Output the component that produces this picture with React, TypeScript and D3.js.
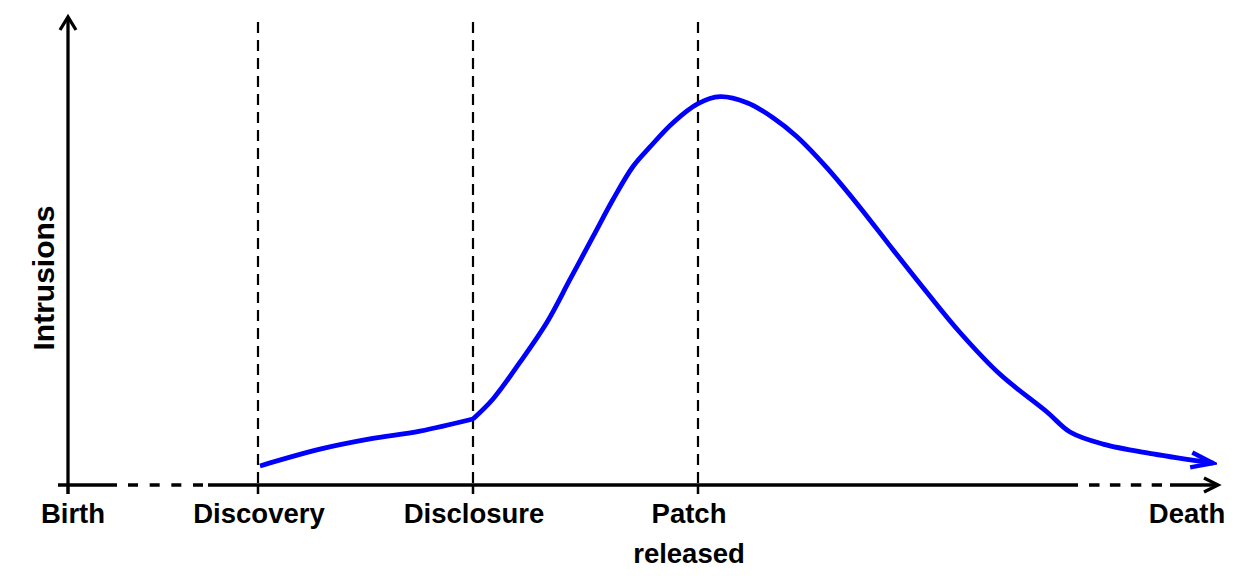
import React from "react";
import * as d3 from "d3";

// Timeline events (time units along the vulnerability lifecycle)
const eventNames = ["Birth", "Discovery", "Disclosure", "Patch", "Death"];
const eventTimes = [0, 190, 405, 630, 1150];
const eventHasLine = [false, true, true, true, false];
const eventHasTick = [true, true, true, true, false];
const secondLine = ["", "", "", "released", ""];

// Intrusions curve: before disclosure
const preTimes = [192, 252, 302, 352, 405];
const preIntrusions = [4.1, 7.7, 9.9, 11.6, 14.2];
// Intrusions curve: after disclosure
const postTimes = [405, 425, 452, 479, 502, 525, 545, 565, 582, 605, 630, 652, 679, 705, 729, 759, 792, 825, 859, 892, 932, 979, 1002, 1035, 1085, 1145];
const postIntrusions = [14.2, 18.5, 26.4, 35.0, 44.2, 53.4, 61.4, 68.5, 72.7, 77.9, 82.0, 83.5, 82.2, 79.0, 74.9, 68.2, 59.7, 50.6, 41.4, 32.8, 23.8, 15.7, 11.4, 8.8, 6.7, 4.7];

const yLabel = "Intrusions";

export default function App() {
  const W = 1235;
  const H = 581;
  const x = d3.scaleLinear().domain([0, 1150]).range([68, 1218]);
  const y = d3.scaleLinear().domain([0, 100]).range([485, 20]);
  const font = "'Liberation Sans', Arial, Helvetica, sans-serif";

  const line = d3
    .line<[number, number]>()
    .x((d) => x(d[0]))
    .y((d) => y(d[1]))
    .curve(d3.curveCatmullRom.alpha(0.5));

  const pre: [number, number][] = preTimes.map((t, i) => [t, preIntrusions[i]]);
  const post: [number, number][] = postTimes.map((t, i) => [t, postIntrusions[i]]);
  const curvePath = (line(pre) || "") + (line(post) || "");

  const y0 = y(0);
  const labelDx = [5, 1, 1, -9, -31];

  return (
    <svg width={W} height={H} style={{ display: "block", position: "absolute", left: 0, top: 0 }}>
      <defs>
        <marker
          id="curveArrow"
          markerUnits="userSpaceOnUse"
          viewBox="-26 -12 30 24"
          markerWidth={30}
          markerHeight={24}
          refX={0}
          refY={0}
          orient="auto"
        >
          <path d="M-22,-7.5 L0,0 L-22,7.5" fill="none" stroke="#0000ff" strokeWidth={4.5} strokeLinejoin="miter" />
        </marker>
      </defs>
      <rect width={W} height={H} fill="#ffffff" />

      {/* vertical dashed event lines */}
      {eventTimes.map((t, i) =>
        eventHasLine[i] ? (
          <line key={"v" + i} x1={x(t)} x2={x(t)} y1={22} y2={y0} stroke="#000" strokeWidth={2.2} strokeDasharray="11,7" />
        ) : null
      )}

      {/* x axis segments */}
      <g stroke="#000" strokeWidth={3.3} fill="none">
        <line x1={x(-10)} x2={x(49)} y1={y0} y2={y0} />
        <line x1={x(60)} x2={x(135)} y1={y0} y2={y0} strokeDasharray="10,11.67" />
        <line x1={x(140)} x2={x(1010)} y1={y0} y2={y0} />
        <line x1={x(1021)} x2={x(1094)} y1={y0} y2={y0} strokeDasharray="10.5,10.4" />
        <line x1={x(1102)} x2={x(1150)} y1={y0} y2={y0} />
        <polyline points={`${x(1150) - 14},${y0 - 7} ${x(1150)},${y0} ${x(1150) - 14},${y0 + 7}`} />
      </g>

      {/* ticks */}
      {eventTimes.map((t, i) =>
        eventHasTick[i] ? (
          <line key={"t" + i} x1={x(t)} x2={x(t)} y1={y0} y2={y0 + 9} stroke="#000" strokeWidth={2.5} />
        ) : null
      )}

      {/* y axis */}
      <g stroke="#000" strokeWidth={3.3} fill="none">
        <line x1={x(0)} x2={x(0)} y1={y0 + 9} y2={18} />
        <polyline points={`${x(0) - 8},30 ${x(0)},17 ${x(0) + 8},30`} />
      </g>

      {/* curve */}
      <path
        d={curvePath}
        fill="none"
        stroke="#0000ff"
        strokeWidth={4.8}
        strokeLinejoin="round"
        markerEnd="url(#curveArrow)"
      />

      {/* labels */}
      <g fontFamily={font} fontWeight="bold" fontSize={27.5} fill="#000" textAnchor="middle">
        {eventNames.map((n, i) => (
          <text key={"l" + i} x={x(eventTimes[i]) + labelDx[i]} y={523}>
            {n}
          </text>
        ))}
        {secondLine.map((n, i) =>
          n ? (
            <text key={"s" + i} x={x(eventTimes[i]) + labelDx[i]} y={563}>
              {n}
            </text>
          ) : null
        )}
      </g>

      <text
        transform={`translate(54,278) rotate(-90)`}
        fontFamily={font}
        fontWeight="bold"
        fontSize={30}
        textAnchor="middle"
        fill="#000"
      >
        {yLabel}
      </text>
    </svg>
  );
}
